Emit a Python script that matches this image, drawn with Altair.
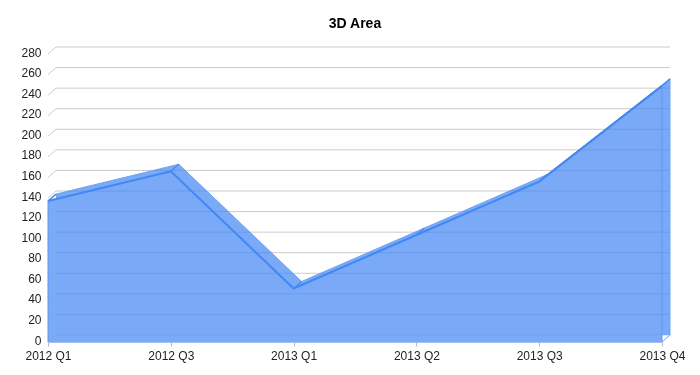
import altair as alt
import pandas as pd

quarters = ["2012 Q1", "2012 Q3", "2013 Q1", "2013 Q2", "2013 Q3", "2013 Q4"]
values = [137, 166, 52, 104, 156, 249]
y_ticks = [0, 20, 40, 60, 80, 100, 120, 140, 160, 180, 200, 220, 240, 260, 280]

DX, DY = 8, -7
FONT = "Liberation Sans"

df = pd.DataFrame({"quarter": quarters, "value": values})
grid_df = pd.DataFrame({"level": y_ticks, "x0": quarters[0], "x1": quarters[-1]})

x_scale = alt.Scale(type="point", padding=0, domain=quarters)
y_scale = alt.Scale(domain=[0, 280], nice=False)
x_axis = alt.Axis(title=None, labelAngle=0, tickSize=4, tickColor="#b8b8b8",
                  domainColor="#9fc0f3", labelPadding=4, labelFontSize=12,
                  labelFont=FONT, labelColor="#222222", grid=False)
y_axis = alt.Axis(title=None, values=y_ticks, domain=False, ticks=False,
                  labelPadding=7, labelFontSize=12, labelFont=FONT, labelOffset=-2,
                  labelColor="#222222", grid=False)


def X(field):
    return alt.X(field, type="nominal", scale=x_scale, axis=x_axis, sort=quarters)


def Y(field):
    return alt.Y(field, type="quantitative", scale=y_scale, axis=y_axis)


grid = alt.Chart(grid_df).mark_rule(
    color="#cccccc", strokeWidth=1, xOffset=DX, x2Offset=DX, yOffset=DY
).encode(x=X("x0"), x2="x1", y=Y("level"))

walls = alt.Chart(grid_df).mark_rule(
    color="#cccccc", strokeWidth=1, x2Offset=DX, y2Offset=DY
).encode(x=X("x0"), x2="x0", y=Y("level"), y2="level")

back_area = alt.Chart(df).mark_area(
    color="#4285f4", fillOpacity=0.7, xOffset=DX, yOffset=DY, y2Offset=DY
).encode(x=X("quarter"), y=Y("value"))

front_area = alt.Chart(df).mark_area(
    color="#7baaf7", fillOpacity=1, blend="darken"
).encode(x=X("quarter"), y=Y("value"))

back_line = alt.Chart(df).mark_line(
    color="#6ea4f6", strokeWidth=1, xOffset=DX, yOffset=DY
).encode(x=X("quarter"), y=Y("value"))

connectors = alt.Chart(df).mark_rule(
    color="#4a8cf3", strokeWidth=1.5, x2Offset=DX, y2Offset=DY
).encode(x=X("quarter"), x2="quarter", y=Y("value"), y2="value")

front_line = alt.Chart(df).mark_line(
    color="#4288f2", strokeWidth=2
).encode(x=X("quarter"), y=Y("value"))

edges = alt.Chart(df).mark_rule(color="#5a96f4", strokeWidth=1).encode(
    x=X("quarter"), y=Y("value"), y2=alt.datum(0)
).transform_filter(
    alt.FieldOneOfPredicate(field="quarter", oneOf=[quarters[0], quarters[-1]])
)

back_edge = alt.Chart(df).mark_rule(
    color="#6ea4f6", strokeWidth=1, xOffset=DX, yOffset=DY, y2Offset=DY
).encode(x=X("quarter"), y=Y("value"), y2=alt.datum(0)).transform_filter(
    alt.FieldEqualPredicate(field="quarter", equal=quarters[-1])
)

corner = alt.Chart(df).mark_rule(
    color="#6ea4f6", strokeWidth=1, x2Offset=DX, y2Offset=DY
).encode(x=X("quarter"), x2="quarter", y=alt.Y(datum=0, scale=y_scale, axis=y_axis),
         y2=alt.datum(0)).transform_filter(
    alt.FieldEqualPredicate(field="quarter", equal=quarters[-1])
)

chart = alt.layer(
    grid, walls, back_area, front_area, back_line, back_edge, corner,
    edges, connectors, front_line
).properties(
    width=614,
    height=288,
    title=alt.Title("3D Area", fontSize=14, font=FONT, fontWeight="bold",
                    color="#000000", anchor="middle", offset=15),
    autosize="none",
    padding={"left": 40, "top": 46, "right": 30, "bottom": 25},
).configure_view(stroke=None)

chart.save("out.html", embed_options={"renderer": "svg", "actions": False})
